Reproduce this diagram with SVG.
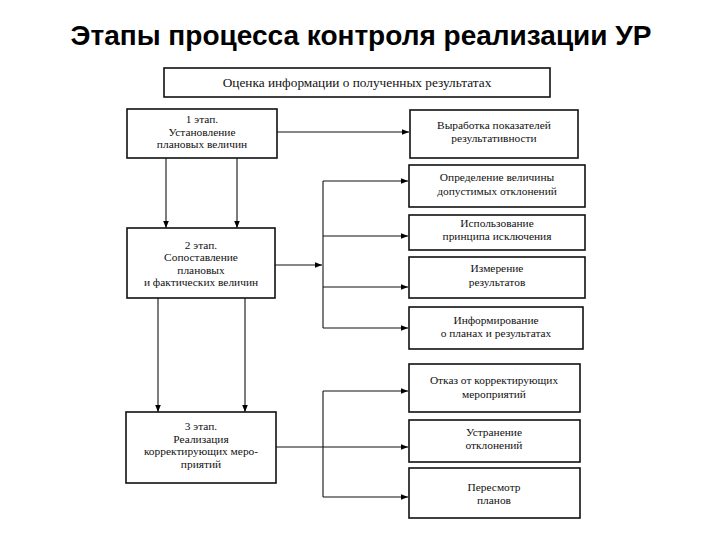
<svg xmlns="http://www.w3.org/2000/svg" width="720" height="540" viewBox="0 0 720 540">
<defs>
<marker id="ah" viewBox="0 0 10 10" refX="10" refY="5" markerWidth="7" markerHeight="7" markerUnits="userSpaceOnUse" orient="auto"><path d="M0,1 L10,5 L0,9 z" fill="#000"/></marker>
<style>
.box{fill:#fff;stroke:#111;stroke-width:1.6}
.t{font-family:"Liberation Serif","DejaVu Serif",serif;font-size:11.4px;fill:#111;text-anchor:middle}
.c{fill:none;stroke:#111;stroke-width:1.1}
.a{marker-end:url(#ah)}
.title{font-family:"Liberation Sans",Arial,sans-serif;font-size:28px;font-weight:bold;fill:#000;text-anchor:middle}
</style>
</defs>
<rect width="720" height="540" fill="#fff"/>
<text class="title" x="361" y="45">Этапы процесса контроля реализации УР</text>

<g id="connectors">
<path class="c a" d="M277,132 H409"/>
<path class="c a" d="M166,158 V228"/>
<path class="c a" d="M237,158 V228"/>
<path class="c a" d="M275,265 H322"/>
<path class="c" d="M323,181 V328"/>
<path class="c a" d="M323,181 H408"/>
<path class="c a" d="M323,236 H408"/>
<path class="c a" d="M323,287 H408"/>
<path class="c a" d="M323,328 H408"/>
<path class="c a" d="M158,298 V412"/>
<path class="c a" d="M245,298 V412"/>
<path class="c" d="M323,391 V497"/>
<path class="c a" d="M323,391 H408"/>
<path class="c a" d="M276,447 H408"/>
<path class="c a" d="M323,497 H408"/>
</g>

<g id="top"><rect class="box" x="164" y="68" width="386" height="29"/><text class="t" x="357" y="87" style="font-size:13.3px">Оценка информации о полученных результатах</text></g>

<g id="stage1"><rect class="box" x="127" y="109" width="150" height="49"/>
<text class="t" x="202" y="123">1 этап.</text><text class="t" x="202" y="135.5">Установление</text><text class="t" x="202" y="148">плановых величин</text></g>

<g id="stage2"><rect class="box" x="127" y="228" width="148" height="70"/>
<text class="t" x="201" y="248.5">2 этап.</text><text class="t" x="201" y="261">Сопоставление</text><text class="t" x="201" y="273.5">плановых</text><text class="t" x="201" y="286">и фактических величин</text></g>

<g id="stage3"><rect class="box" x="126" y="412" width="150" height="71"/>
<text class="t" x="201" y="430">3 этап.</text><text class="t" x="201" y="442.5">Реализация</text><text class="t" x="201" y="455">корректирующих меро-</text><text class="t" x="201" y="467.5">приятий</text></g>

<g id="r1"><rect class="box" x="410" y="110" width="168" height="48"/>
<text class="t" x="494" y="129">Выработка показателей</text><text class="t" x="494" y="142">результативности</text></g>

<g id="r2"><rect class="box" x="409" y="165" width="176" height="42"/>
<text class="t" x="497" y="181">Определение величины</text><text class="t" x="497" y="195">допустимых отклонений</text></g>

<g id="r3"><rect class="box" x="409" y="215" width="176" height="35"/>
<text class="t" x="497" y="227">Использование</text><text class="t" x="497" y="240">принципа исключения</text></g>

<g id="r4"><rect class="box" x="409" y="257" width="176" height="41"/>
<text class="t" x="497" y="272">Измерение</text><text class="t" x="497" y="286">результатов</text></g>

<g id="r5"><rect class="box" x="409" y="307" width="174" height="42"/>
<text class="t" x="496" y="324">Информирование</text><text class="t" x="496" y="337">о планах и результатах</text></g>

<g id="r6"><rect class="box" x="409" y="364" width="171" height="48"/>
<text class="t" x="494" y="384">Отказ от корректирующих</text><text class="t" x="494" y="398">мероприятий</text></g>

<g id="r7"><rect class="box" x="409" y="420" width="171" height="42"/>
<text class="t" x="494" y="436">Устранение</text><text class="t" x="494" y="449">отклонений</text></g>

<g id="r8"><rect class="box" x="409" y="468" width="171" height="50"/>
<text class="t" x="494" y="491">Пересмотр</text><text class="t" x="494" y="504">планов</text></g>
</svg>
